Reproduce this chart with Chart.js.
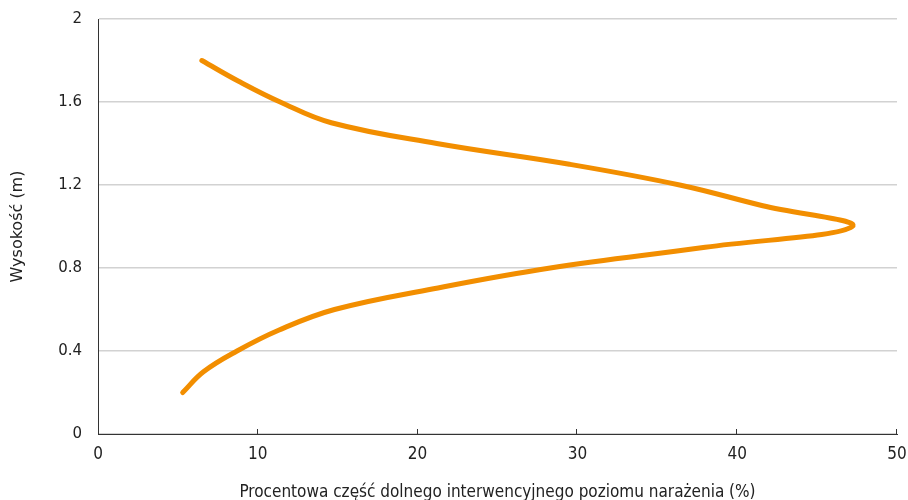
<!DOCTYPE html>
<html>
<head>
<meta charset="utf-8">
<script src="https://cdn.jsdelivr.net/npm/chart.js@4/dist/chart.umd.min.js"></script>
<style>
  html, body { margin: 0; padding: 0; background: #ffffff; }
  #wrap { width: 908px; height: 500px; position: relative; }
</style>
</head>
<body>
<div id="wrap"><canvas id="c" width="908" height="500"></canvas></div>
<script>
// Height above floor (m) and share of the lower exposure action value (%)
const heights = [0.2, 0.3, 0.4, 0.5, 0.6, 0.7, 0.8, 0.9, 1.0, 1.1, 1.2, 1.3, 1.4, 1.5, 1.6, 1.7, 1.8];
const percents = [5.3, 6.6, 8.7, 11.3, 14.8, 21.0, 28.3, 38.0, 47.2, 41.6, 36.4, 29.5, 21.2, 14.6, 11.4, 8.8, 6.5];

const xTickValues = [0, 10, 20, 30, 40, 50];
const yTickValues = [0, 0.4, 0.8, 1.2, 1.6, 2];

const xTitle = 'Procentowa część dolnego interwencyjnego poziomu narażenia (%)';
const yTitle = 'Wysokość (m)';

const points = heights.map((h, i) => ({ x: percents[i], y: h }));

const narrowFont = '"Liberation Sans Narrow", "DejaVu Sans Condensed", sans-serif';
const plainFont = '"DejaVu Sans", sans-serif';

// Short tick marks rising from the x axis line
const upTicks = {
  id: 'upTicks',
  afterDraw(chart) {
    const xs = chart.scales.x;
    const ctx = chart.ctx;
    const bottom = chart.chartArea.bottom;
    ctx.save();
    ctx.strokeStyle = '#333333';
    ctx.lineWidth = 1;
    xTickValues.forEach(v => {
      if (v === 0) return;
      const px = Math.round(xs.getPixelForValue(v)) - 0.5;
      ctx.beginPath();
      ctx.moveTo(px, bottom);
      ctx.lineTo(px, bottom - 5);
      ctx.stroke();
    });
    ctx.restore();
  }
};

new Chart(document.getElementById('c'), {
  type: 'scatter',
  data: {
    datasets: [{
      data: points,
      showLine: true,
      borderColor: '#f28e00',
      borderWidth: 5,
      borderCapStyle: 'round',
      borderJoinStyle: 'round',
      pointRadius: 0,
      tension: 0.4,
      fill: false
    }]
  },
  options: {
    responsive: false,
    animation: false,
    layout: { padding: { top: 19, right: 11, left: 0, bottom: 0 } },
    plugins: { legend: { display: false }, tooltip: { enabled: false } },
    scales: {
      x: {
        type: 'linear',
        min: 0,
        max: 50,
        afterBuildTicks(scale) { scale.ticks = xTickValues.map(v => ({ value: v })); },
        afterFit(scale) {
          scale.height = 66;
          scale.paddingLeft = 0;
          scale.paddingRight = 0;
        },
        grid: { drawOnChartArea: false, drawTicks: false },
        border: { display: true, color: '#333333', width: 1 },
        ticks: {
          padding: 10,
          color: '#222222',
          font: { family: narrowFont, size: 17 }
        },
        title: {
          display: true,
          text: xTitle,
          color: '#222222',
          padding: { top: 15, bottom: -3 },
          font: { family: narrowFont, size: 17 }
        }
      },
      y: {
        type: 'linear',
        min: 0,
        max: 2,
        afterBuildTicks(scale) { scale.ticks = yTickValues.map(v => ({ value: v })); },
        afterFit(scale) {
          scale.width = 98;
          scale.paddingTop = 0;
          scale.paddingBottom = 0;
        },
        grid: { color: '#d2d2d2', lineWidth: 1.5, drawTicks: false },
        border: { display: true, color: '#333333', width: 1 },
        ticks: {
          padding: 16,
          color: '#222222',
          font: { family: plainFont, size: 15 },
          callback: v => String(v)
        },
        title: {
          display: true,
          text: yTitle,
          color: '#222222',
          padding: { top: 8, bottom: 10 },
          font: { family: plainFont, size: 16 }
        }
      }
    }
  },
  plugins: [upTicks]
});
</script>
</body>
</html>
